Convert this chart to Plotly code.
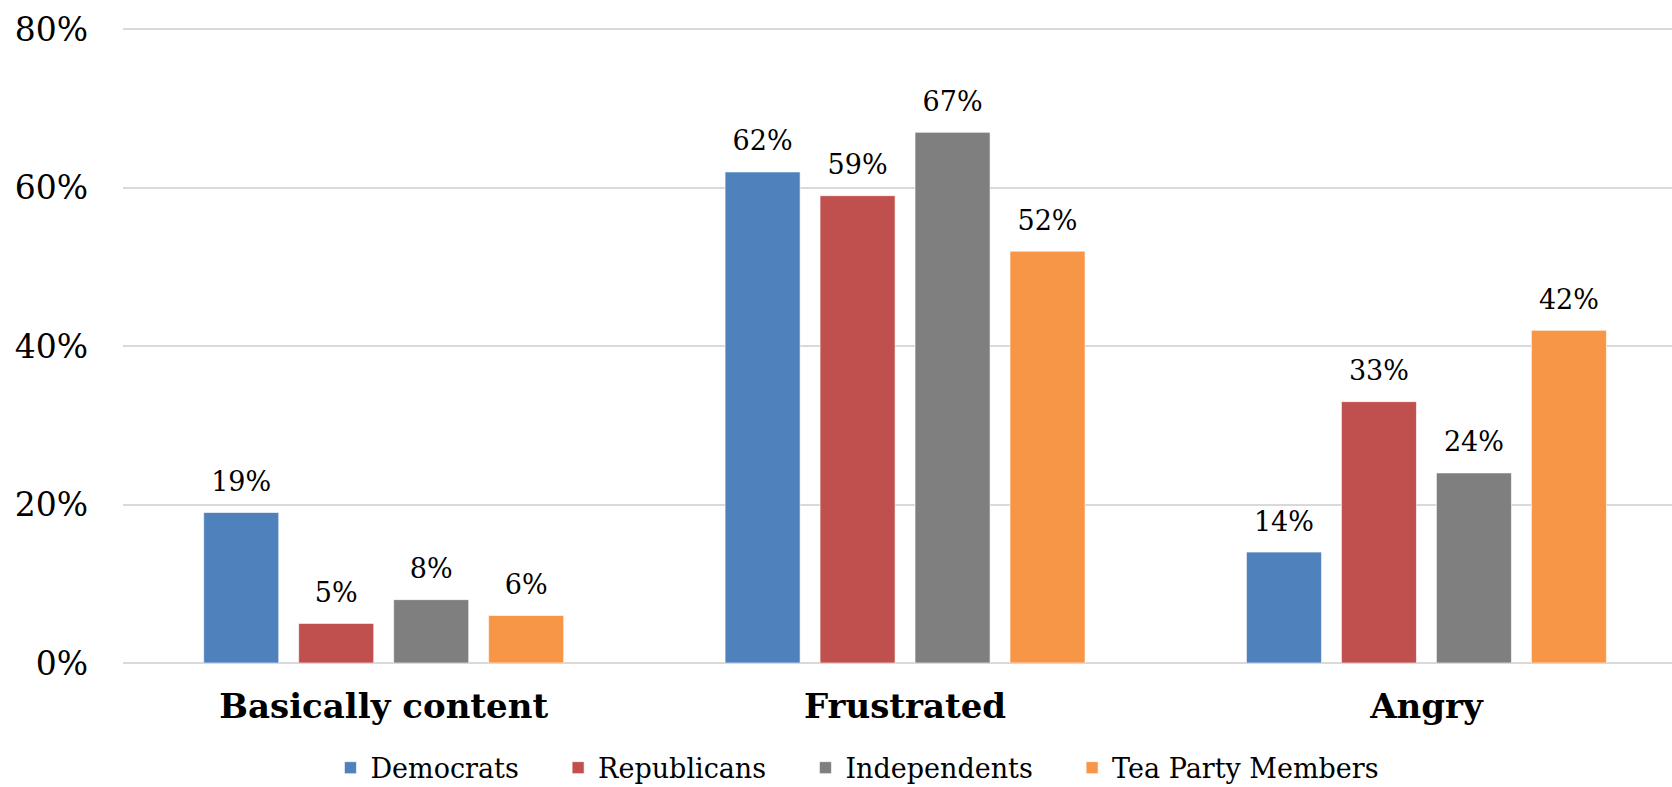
import plotly.graph_objects as go

categories = ["Basically content", "Frustrated", "Angry"]
democrats = [19, 62, 14]
republicans = [5, 59, 33]
independents = [8, 67, 24]
tea_party = [6, 52, 42]
series_names = ["Democrats", "Republicans", "Independents", "Tea Party Members"]
colors = ["#4F81BD", "#C0504D", "#7F7F7F", "#F79646"]
y_ticks = [0, 20, 40, 60, 80]
y_tick_labels = ["0%", "20%", "40%", "60%", "80%"]

FONT = "DejaVu Serif"
NBSP = "\u00a0"

fig = go.Figure()
all_series = [democrats, republicans, independents, tea_party]
for i, (name, vals, col) in enumerate(zip(series_names, all_series, colors)):
    fig.add_trace(go.Bar(
        name=name + NBSP * 4,
        x=categories,
        y=vals,
        offsetgroup=str(i),
        marker=dict(color=col, line=dict(color="rgba(255,255,255,0.6)", width=1)),
        hoverinfo="x+y",
    ))
for i, (name, vals) in enumerate(zip(series_names, all_series)):
    fig.add_trace(go.Scatter(
        x=categories,
        y=vals,
        mode="markers+text",
        text=[f"{v}%" for v in vals],
        textposition="top center",
        textfont=dict(family=FONT, size=27, color="#000000"),
        marker=dict(size=22, opacity=0),
        offsetgroup=str(i),
        showlegend=False,
        hoverinfo="skip",
        cliponaxis=False,
    ))

fig.update_layout(
    width=1672, height=787,
    margin=dict(l=123, r=0, t=27, b=124, autoexpand=False),
    paper_bgcolor="white", plot_bgcolor="white",
    barmode="group", bargap=0.2713, bargroupgap=0.21,
    scattermode="group", scattergap=0.2713,
    showlegend=True,
    legend=dict(orientation="h", x=0.523, xref="container", xanchor="center",
                y=0.024, yref="container", yanchor="middle",
                font=dict(family=FONT, size=27, color="#000000"),
                traceorder="normal"),
    xaxis=dict(range=[-0.5, 2.471], showgrid=False, showline=False, zeroline=False,
               tickfont=dict(family=FONT, size=34, color="#000000", weight="bold"),
               ticks="", ticklabelstandoff=20, automargin=False),
    yaxis=dict(range=[0, 80.3], tickvals=y_ticks, ticktext=y_tick_labels,
               showgrid=True, gridcolor="#D9D9D9", gridwidth=2,
               zeroline=True, zerolinecolor="#D9D9D9", zerolinewidth=2,
               showline=False, ticks="",
               tickfont=dict(family=FONT, size=33, color="#000000"),
               ticklabelstandoff=34, automargin=False),
)

fig.write_html(
    "out.html",
    config={"displayModeBar": False},
    post_script="document.body.style.margin='0';document.body.style.overflow='hidden';",
)
